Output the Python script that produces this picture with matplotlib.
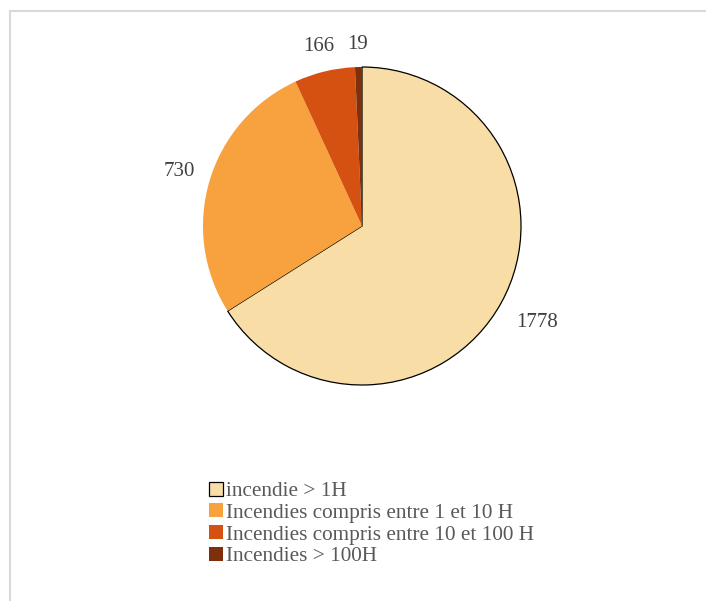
import matplotlib
matplotlib.use('Agg')
import matplotlib.pyplot as plt
import numpy as np

plt.rcParams['font.family'] = ['Liberation Serif', 'DejaVu Serif']

categories = ['incendie > 1H', 'Incendies compris entre 1 et 10 H',
              'Incendies compris entre 10 et 100 H', 'Incendies > 100H']
values = [1778, 730, 166, 19]
colors = ['#F8DEA6', '#F7A23F', '#D45112', '#7E2F0B']
label_dist = [1.26, 1.2, 1.16, 1.14]

W, H = 706, 601
fig = plt.figure(figsize=(W / 100, H / 100), dpi=100)

# gray frame (top and left visible)
fig.add_artist(plt.Line2D([10 / W, 10 / W], [0, 1 - 11 / H], color='#d9d9d9', lw=1.5))
fig.add_artist(plt.Line2D([10 / W, 1], [1 - 11 / H, 1 - 11 / H], color='#d9d9d9', lw=1.5))

cx, cy, r = 362, 226, 159
ax = fig.add_axes([(cx - r) / W, (H - cy - r) / H, 2 * r / W, 2 * r / H])
wedges, _ = ax.pie(values, colors=colors, startangle=90, counterclock=False,
                   wedgeprops=dict(linewidth=0))
wedges[0].set_edgecolor('black')
wedges[0].set_linewidth(0.9)
ax.set_xlim(-1, 1)
ax.set_ylim(-1, 1)
ax.axis('off')

for w, v, d in zip(wedges, values, label_dist):
    ang = np.deg2rad((w.theta1 + w.theta2) / 2)
    ax.text(d * np.cos(ang), d * np.sin(ang), str(v), ha='center', va='center',
            fontsize=15, color='#404040', clip_on=False)

leg = fig.legend(wedges, categories, loc='upper left',
                 bbox_to_anchor=(201 / W, 1 - 473 / H), frameon=False,
                 fontsize=15.3, handlelength=0.64, handleheight=0.64,
                 handletextpad=0.15, labelspacing=0.11, borderaxespad=0)
for t in leg.get_texts():
    t.set_color('#595959')

fig.savefig('out.png', dpi=100)
